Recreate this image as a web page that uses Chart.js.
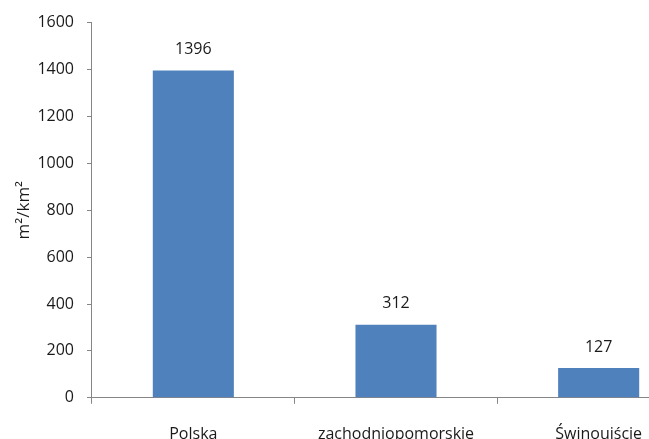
<!DOCTYPE html>
<html>
<head>
<meta charset="utf-8">
<script src="https://cdn.jsdelivr.net/npm/chart.js@4"></script>
<style>
  html, body { margin: 0; padding: 0; background: #fff; overflow: hidden; }
  .wrap { width: 720px; height: 465px; }
</style>
</head>
<body>
<div class="wrap"><canvas id="barChart"></canvas></div>
<script>
const categories = ['Polska', 'zachodniopomorskie', 'Świnoujście'];
const values = [1396, 312, 127];
const yTicks = [0, 200, 400, 600, 800, 1000, 1200, 1400, 1600];

const fontFamily = '"Open Sans", sans-serif';
const axisGray = '#868686';

// value labels drawn above each bar
const valueLabels = {
  id: 'valueLabels',
  afterDatasetsDraw(chart) {
    const ctx = chart.ctx;
    ctx.save();
    ctx.font = `16px ${fontFamily}`;
    ctx.fillStyle = '#1a1a1a';
    ctx.textAlign = 'center';
    ctx.textBaseline = 'bottom';
    chart.getDatasetMeta(0).data.forEach((bar, i) => {
      ctx.fillText(String(values[i]), bar.x, bar.y - 13);
    });
    ctx.restore();
  }
};

new Chart(document.querySelector('#barChart'), {
  type: 'bar',
  data: {
    labels: categories,
    datasets: [{
      data: values,
      backgroundColor: '#4f81bd',
      categoryPercentage: 1,
      barPercentage: 0.4
    }]
  },
  options: {
    responsive: true,
    maintainAspectRatio: false,
    animation: false,
    layout: { padding: { top: 14, right: 20, bottom: 0, left: 0 } },
    plugins: {
      legend: { display: false },
      tooltip: { enabled: false }
    },
    scales: {
      x: {
        grid: {
          offset: true,
          drawOnChartArea: false,
          drawTicks: true,
          tickLength: 6,
          color: axisGray
        },
        border: { color: axisGray },
        ticks: {
          color: '#1a1a1a',
          font: { family: fontFamily, size: 16 },
          padding: 21,
          maxRotation: 0
        }
      },
      y: {
        min: 0,
        max: 1600,
        afterBuildTicks(axis) {
          axis.ticks = yTicks.map((v) => ({ value: v }));
        },
        grid: {
          drawOnChartArea: false,
          drawTicks: true,
          tickLength: 5,
          color: axisGray
        },
        border: { color: axisGray },
        ticks: {
          color: '#1a1a1a',
          font: { family: fontFamily, size: 16 },
          padding: 13,
          callback: (v) => String(v)
        },
        title: {
          display: true,
          text: 'm²/km²',
          color: '#1a1a1a',
          font: { family: fontFamily, size: 17 },
          padding: { top: 14, bottom: -10 }
        }
      }
    }
  },
  plugins: [valueLabels]
});
</script>
</body>
</html>
